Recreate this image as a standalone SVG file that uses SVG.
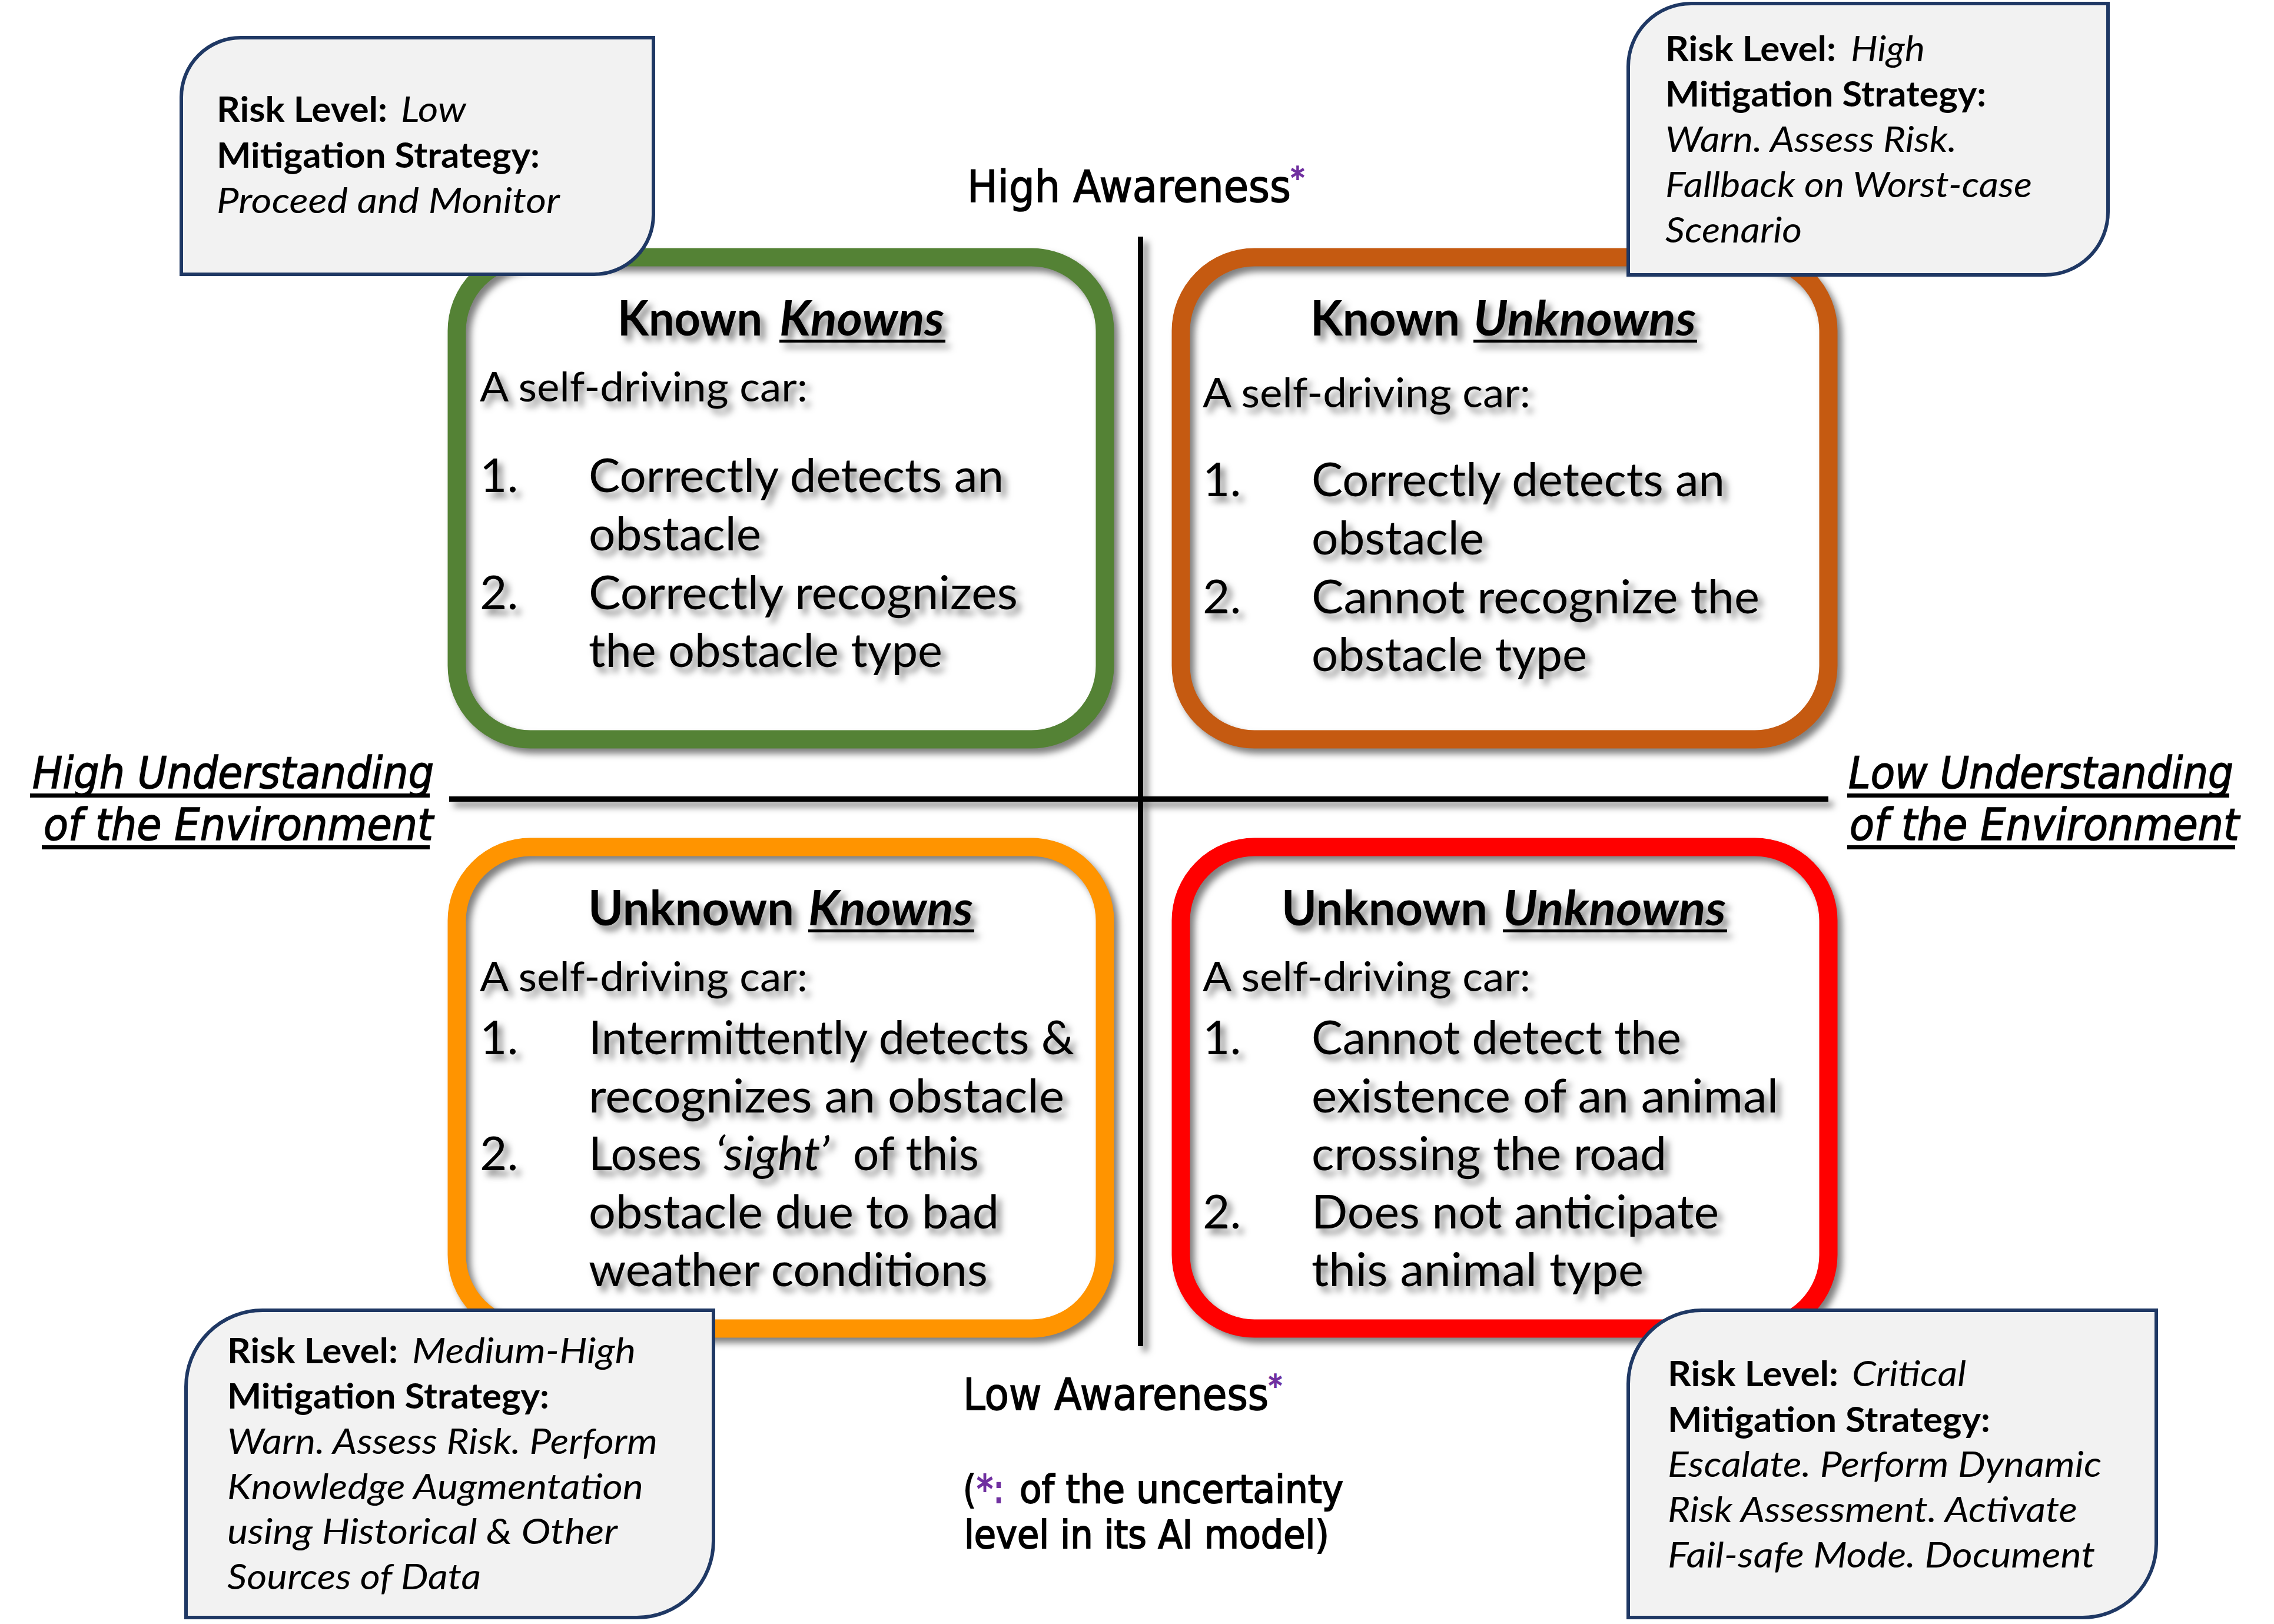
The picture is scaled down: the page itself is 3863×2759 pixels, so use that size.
<svg xmlns="http://www.w3.org/2000/svg" width="3863" height="2759" viewBox="0 0 3863 2759">
<defs>
<filter id="sh" x="-10%" y="-10%" width="125%" height="125%" color-interpolation-filters="sRGB"><feDropShadow dx="8" dy="9" stdDeviation="6" flood-color="#000" flood-opacity="0.5"/></filter>
</defs>
<style>
text{font-family:"Lato","Noto Sans",sans-serif;fill:#000;white-space:pre}
.box{fill:none;stroke-width:31}
.call{fill:#f2f2f2;stroke:#1f3864;stroke-width:6}
.t{font-size:82px;font-weight:700}
.i{font-style:italic}
.a{font-size:70px}
.l{font-size:80px}
.c{font-size:60px}
.b{font-weight:700}
.h{font-family:"DejaVu Sans",sans-serif;font-size:74px;stroke:#000;stroke-width:1.6}
.n{font-family:"DejaVu Sans",sans-serif;font-size:66px;stroke:#000;stroke-width:2}
.p{fill:#7030a0;stroke:#7030a0;stroke-width:2}
.st{font-size:50px}
.sh{filter:url(#sh)}
</style>
<rect width="3863" height="2759" fill="#fff"/>

<g id="connectors" class="sh">
<rect x="1933" y="402" width="9" height="1885"/>
<rect x="763" y="1353" width="2343" height="9"/>
</g>

<g id="known-knowns">
<rect class="box sh" x="776" y="437" width="1101" height="819" rx="125" stroke="#548235"/>
<g class="sh">
<text class="t" x="1049" y="570" textLength="246" lengthAdjust="spacingAndGlyphs">Known</text>
<text class="t i" x="1324" y="570" textLength="280" lengthAdjust="spacingAndGlyphs">Knowns</text>
<rect x="1324" y="577" width="282" height="5"/>
<text class="a" x="815" y="682" textLength="557" lengthAdjust="spacingAndGlyphs">A self-driving car:</text>
<text class="l" x="815" y="836">1.</text>
<text class="l" x="1000" y="836" textLength="705" lengthAdjust="spacingAndGlyphs">Correctly detects an</text>
<text class="l" x="1000" y="935" textLength="293" lengthAdjust="spacingAndGlyphs">obstacle</text>
<text class="l" x="815" y="1035">2.</text>
<text class="l" x="1000" y="1035" textLength="729" lengthAdjust="spacingAndGlyphs">Correctly recognizes</text>
<text class="l" x="1000" y="1133" textLength="601" lengthAdjust="spacingAndGlyphs">the obstacle type</text>
</g>
</g>

<g id="known-unknowns">
<rect class="box sh" x="2006" y="437" width="1100" height="819" rx="125" stroke="#c55a11"/>
<g class="sh">
<text class="t" x="2226" y="570" textLength="254" lengthAdjust="spacingAndGlyphs">Known</text>
<text class="t i" x="2503" y="570" textLength="378" lengthAdjust="spacingAndGlyphs">Unknowns</text>
<rect x="2503" y="577" width="380" height="5"/>
<text class="a" x="2043" y="692" textLength="557" lengthAdjust="spacingAndGlyphs">A self-driving car:</text>
<text class="l" x="2043" y="843">1.</text>
<text class="l" x="2228" y="843" textLength="702" lengthAdjust="spacingAndGlyphs">Correctly detects an</text>
<text class="l" x="2228" y="942" textLength="293" lengthAdjust="spacingAndGlyphs">obstacle</text>
<text class="l" x="2043" y="1042">2.</text>
<text class="l" x="2228" y="1042" textLength="761" lengthAdjust="spacingAndGlyphs">Cannot recognize the</text>
<text class="l" x="2228" y="1140" textLength="468" lengthAdjust="spacingAndGlyphs">obstacle type</text>
</g>
</g>

<g id="unknown-knowns">
<rect class="box sh" x="776" y="1439" width="1101" height="818" rx="125" stroke="#ff9400"/>
<g class="sh">
<text class="t" x="999" y="1572" textLength="350" lengthAdjust="spacingAndGlyphs">Unknown</text>
<text class="t i" x="1373" y="1572" textLength="280" lengthAdjust="spacingAndGlyphs">Knowns</text>
<rect x="1373" y="1579" width="282" height="5"/>
<text class="a" x="815" y="1684" textLength="557" lengthAdjust="spacingAndGlyphs">A self-driving car:</text>
<text class="l" x="815" y="1791">1.</text>
<text class="l" x="1000" y="1791" textLength="825" lengthAdjust="spacingAndGlyphs">Intermittently detects &amp;</text>
<text class="l" x="1000" y="1890" textLength="808" lengthAdjust="spacingAndGlyphs">recognizes an obstacle</text>
<text class="l" x="815" y="1988">2.</text>
<text class="l" x="1000" y="1988" textLength="192" lengthAdjust="spacingAndGlyphs">Loses</text>
<text class="l i" x="1215" y="1988" textLength="194" lengthAdjust="spacingAndGlyphs">‘sight’</text>
<text class="l" x="1449" y="1988" textLength="214" lengthAdjust="spacingAndGlyphs">of this</text>
<text class="l" x="1000" y="2087" textLength="697" lengthAdjust="spacingAndGlyphs">obstacle due to bad</text>
<text class="l" x="1000" y="2185" textLength="678" lengthAdjust="spacingAndGlyphs">weather conditions</text>
</g>
</g>

<g id="unknown-unknowns">
<rect class="box sh" x="2006" y="1439" width="1100" height="818" rx="125" stroke="#ff0000"/>
<g class="sh">
<text class="t" x="2177" y="1572" textLength="350" lengthAdjust="spacingAndGlyphs">Unknown</text>
<text class="t i" x="2553" y="1572" textLength="379" lengthAdjust="spacingAndGlyphs">Unknowns</text>
<rect x="2553" y="1579" width="381" height="5"/>
<text class="a" x="2043" y="1684" textLength="557" lengthAdjust="spacingAndGlyphs">A self-driving car:</text>
<text class="l" x="2043" y="1791">1.</text>
<text class="l" x="2228" y="1791" textLength="628" lengthAdjust="spacingAndGlyphs">Cannot detect the</text>
<text class="l" x="2228" y="1890" textLength="793" lengthAdjust="spacingAndGlyphs">existence of an animal</text>
<text class="l" x="2228" y="1988" textLength="603" lengthAdjust="spacingAndGlyphs">crossing the road</text>
<text class="l" x="2043" y="2087">2.</text>
<text class="l" x="2228" y="2087" textLength="692" lengthAdjust="spacingAndGlyphs">Does not anticipate</text>
<text class="l" x="2228" y="2185" textLength="564" lengthAdjust="spacingAndGlyphs">this animal type</text>
</g>
</g>

<g id="risk-low">
<path class="call" d="M409,64H1110V365A101,101 0 0 1 1009,466H308V165A101,101 0 0 1 409,64Z"/>
<text class="c b" x="368" y="207" textLength="290" lengthAdjust="spacingAndGlyphs">Risk Level:</text>
<text class="c i" x="681" y="207" textLength="111" lengthAdjust="spacingAndGlyphs">Low</text>
<text class="c b" x="368" y="285" textLength="549" lengthAdjust="spacingAndGlyphs">Mitigation Strategy:</text>
<text class="c i" x="368" y="362" textLength="583" lengthAdjust="spacingAndGlyphs">Proceed and Monitor</text>
</g>

<g id="risk-high">
<path class="call" d="M2873,6H3581V360A107,107 0 0 1 3474,467H2766V113A107,107 0 0 1 2873,6Z"/>
<text class="c b" x="2829" y="104" textLength="290" lengthAdjust="spacingAndGlyphs">Risk Level:</text>
<text class="c i" x="3144" y="104" textLength="126" lengthAdjust="spacingAndGlyphs">High</text>
<text class="c b" x="2829" y="181" textLength="545" lengthAdjust="spacingAndGlyphs">Mitigation Strategy:</text>
<text class="c i" x="2829" y="258" textLength="495" lengthAdjust="spacingAndGlyphs">Warn. Assess Risk.</text>
<text class="c i" x="2829" y="335" textLength="623" lengthAdjust="spacingAndGlyphs">Fallback on Worst-case</text>
<text class="c i" x="2829" y="412" textLength="232" lengthAdjust="spacingAndGlyphs">Scenario</text>
</g>

<g id="risk-medium-high">
<path class="call" d="M446,2226H1212V2618A130,130 0 0 1 1082,2748H316V2356A130,130 0 0 1 446,2226Z"/>
<text class="c b" x="386" y="2316" textLength="290" lengthAdjust="spacingAndGlyphs">Risk Level:</text>
<text class="c i" x="700" y="2316" textLength="380" lengthAdjust="spacingAndGlyphs">Medium-High</text>
<text class="c b" x="386" y="2393" textLength="547" lengthAdjust="spacingAndGlyphs">Mitigation Strategy:</text>
<text class="c i" x="386" y="2470" textLength="731" lengthAdjust="spacingAndGlyphs">Warn. Assess Risk. Perform</text>
<text class="c i" x="386" y="2547" textLength="707" lengthAdjust="spacingAndGlyphs">Knowledge Augmentation</text>
<text class="c i" x="386" y="2623" textLength="663" lengthAdjust="spacingAndGlyphs">using Historical &amp; Other</text>
<text class="c i" x="386" y="2700" textLength="431" lengthAdjust="spacingAndGlyphs">Sources of Data</text>
</g>

<g id="risk-critical">
<path class="call" d="M2891,2226H3663V2623A125,125 0 0 1 3538,2748H2766V2351A125,125 0 0 1 2891,2226Z"/>
<text class="c b" x="2833" y="2355" textLength="290" lengthAdjust="spacingAndGlyphs">Risk Level:</text>
<text class="c i" x="3146" y="2355" textLength="194" lengthAdjust="spacingAndGlyphs">Critical</text>
<text class="c b" x="2833" y="2433" textLength="548" lengthAdjust="spacingAndGlyphs">Mitigation Strategy:</text>
<text class="c i" x="2833" y="2509" textLength="737" lengthAdjust="spacingAndGlyphs">Escalate. Perform Dynamic</text>
<text class="c i" x="2833" y="2586" textLength="696" lengthAdjust="spacingAndGlyphs">Risk Assessment. Activate</text>
<text class="c i" x="2833" y="2663" textLength="726" lengthAdjust="spacingAndGlyphs">Fail-safe Mode. Document</text>
</g>

<g id="axis-labels">
<text class="h" x="1643" y="343" textLength="573" lengthAdjust="spacingAndGlyphs">High Awareness<tspan class="p st" dy="-24">*</tspan></text>
<text class="h" x="1636" y="2395" textLength="542" lengthAdjust="spacingAndGlyphs">Low Awareness<tspan class="p st" dy="-24">*</tspan></text>
<text class="h i" x="55" y="1339" textLength="682" lengthAdjust="spacingAndGlyphs">High Understanding</text>
<rect x="51" y="1348" width="679" height="7"/>
<text class="h i" x="74" y="1427" textLength="662" lengthAdjust="spacingAndGlyphs">of the Environment</text>
<rect x="71" y="1436" width="659" height="7"/>
<text class="h i" x="3140" y="1339" textLength="654" lengthAdjust="spacingAndGlyphs">Low Understanding</text>
<rect x="3138" y="1348" width="649" height="7"/>
<text class="h i" x="3142" y="1427" textLength="662" lengthAdjust="spacingAndGlyphs">of the Environment</text>
<rect x="3138" y="1436" width="659" height="7"/>
</g>

<g id="note">
<text class="n" x="1636" y="2553" textLength="22" lengthAdjust="spacingAndGlyphs">(</text>
<text class="n p" x="1659" y="2553" textLength="47" lengthAdjust="spacingAndGlyphs">*:</text>
<text class="n" x="1732" y="2553" textLength="550" lengthAdjust="spacingAndGlyphs">of the uncertainty</text>
<text class="n" x="1638" y="2630" textLength="620" lengthAdjust="spacingAndGlyphs">level in its AI model)</text>
</g>
</svg>
